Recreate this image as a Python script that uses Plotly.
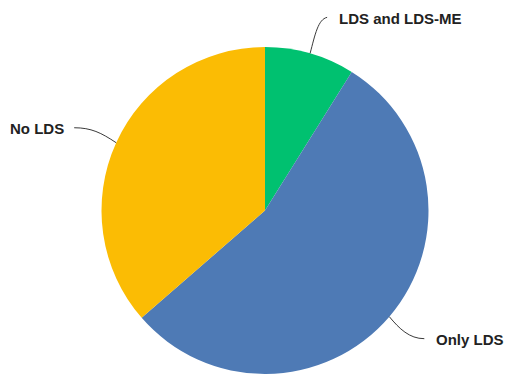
import math
import plotly.graph_objects as go

labels = ["LDS and LDS-ME", "Only LDS", "No LDS"]
values = [8.9, 54.7, 36.4]
colors = ["#00C170", "#4E7AB5", "#FBBC04"]

W, H = 506, 374
cx, top = 265, 47
R = (H - top) / 2
cy = top + R

fig = go.Figure(go.Pie(
    labels=labels, values=values, sort=False, direction="clockwise", rotation=0,
    marker=dict(colors=colors, line=dict(width=0)),
    textinfo="none", hoverinfo="label+percent", showlegend=False,
    domain=dict(x=[(cx - R) / W, (cx + R) / W], y=[0, 1 - top / H]),
))

# leader-line styling: (control1, control2, end) offsets from slice edge, text side
leaders = {
    "LDS and LDS-ME": ((5, -19), (8, -34), (17, -36), "left"),
    "Only LDS": ((10, 12), (20, 22), (35, 22), "left"),
    "No LDS": ((-15, -10), (-25, -15), (-42, -15), "right"),
}

def px(x, y):
    return x / W, 1 - y / H

total = sum(values)
cum = 0
shapes, annotations = [], []
for lab, v in zip(labels, values):
    mid = (cum + v / 2) / total * 2 * math.pi
    cum += v
    ex, ey = cx + R * math.sin(mid), cy - R * math.cos(mid)
    c1, c2, e, side = leaders[lab]
    pts = [(ex, ey), (ex + c1[0], ey + c1[1]), (ex + c2[0], ey + c2[1]), (ex + e[0], ey + e[1])]
    pp = [px(*p) for p in pts]
    path = "M {} {} C {} {}, {} {}, {} {}".format(*[c for p in pp for c in p])
    shapes.append(dict(type="path", path=path, xref="paper", yref="paper",
                       line=dict(color="#3a3a3a", width=1)))
    gap = 10 if side == "left" else -8
    tx, ty = px(pts[3][0] + gap, pts[3][1] + 1)
    annotations.append(dict(text=lab, x=tx, y=ty, xref="paper", yref="paper",
                            xanchor=side, yanchor="middle", showarrow=False,
                            font=dict(family="Liberation Sans, Arial", size=15,
                                      color="#222222", weight="bold")))

fig.update_layout(width=W, height=H, margin=dict(l=0, r=0, t=0, b=0),
                  paper_bgcolor="white", plot_bgcolor="white",
                  shapes=shapes, annotations=annotations)
fig.write_html("out.html")
